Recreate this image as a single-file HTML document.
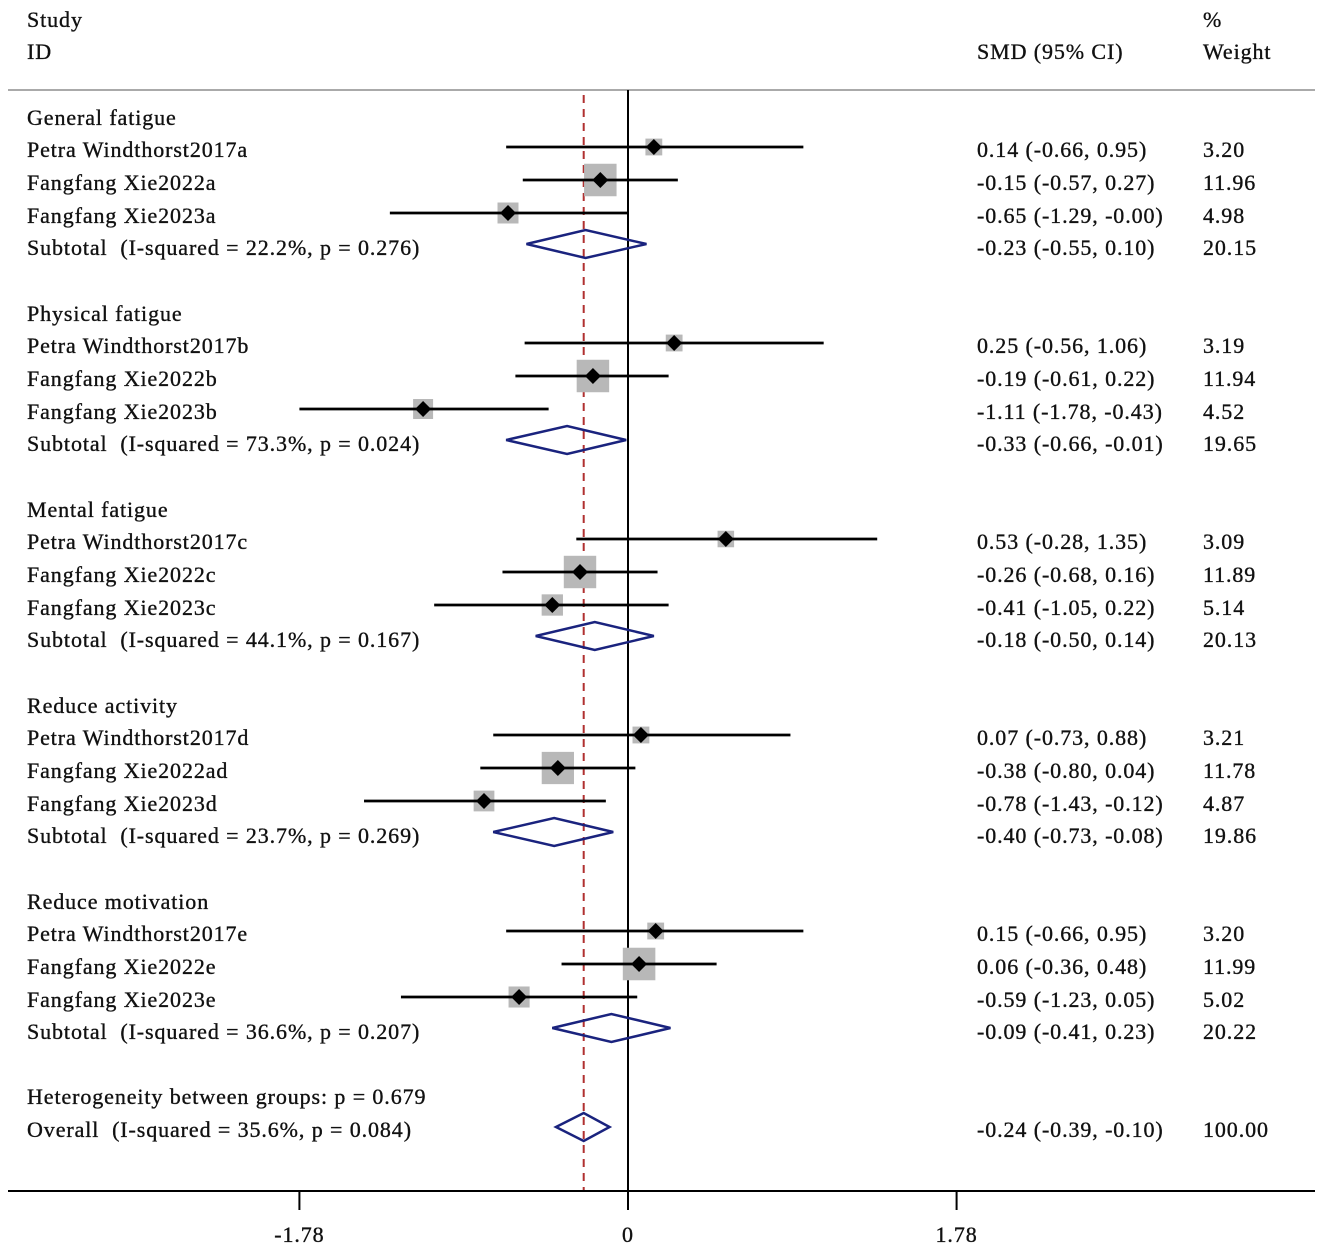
<!DOCTYPE html>
<html><head><meta charset="utf-8">
<style>
html,body{margin:0;padding:0;background:#fff;}
svg text{font-family:"Liberation Serif",serif;font-size:22px;letter-spacing:0.9px;fill:#111;stroke:#111;stroke-width:0.35px;white-space:pre;}
</style></head>
<body>
<svg id="chart" width="1325" height="1251" viewBox="0 0 1325 1251" xmlns="http://www.w3.org/2000/svg" xml:space="preserve">
<text x="27" y="27">Study</text>
<text x="27" y="59">ID</text>
<text x="977" y="59">SMD (95% CI)</text>
<text x="1203" y="27">%</text>
<text x="1203" y="59">Weight</text>
<line x1="8" y1="90" x2="1315" y2="90" stroke="#aaa" stroke-width="2"/>
<g id="plot"></g>
</svg>
<script>
const groups = ["General fatigue","Physical fatigue","Mental fatigue","Reduce activity","Reduce motivation"];
const studyNames = [
 ["Petra Windthorst2017a","Fangfang Xie2022a","Fangfang Xie2023a"],
 ["Petra Windthorst2017b","Fangfang Xie2022b","Fangfang Xie2023b"],
 ["Petra Windthorst2017c","Fangfang Xie2022c","Fangfang Xie2023c"],
 ["Petra Windthorst2017d","Fangfang Xie2022ad","Fangfang Xie2023d"],
 ["Petra Windthorst2017e","Fangfang Xie2022e","Fangfang Xie2023e"]];
const est = [[0.14,-0.15,-0.65],[0.25,-0.19,-1.11],[0.53,-0.26,-0.41],[0.07,-0.38,-0.78],[0.15,0.06,-0.59]];
const lo = [[-0.66,-0.57,-1.29],[-0.56,-0.61,-1.78],[-0.28,-0.68,-1.05],[-0.73,-0.80,-1.43],[-0.66,-0.36,-1.23]];
const hi = [[0.95,0.27,-0.00],[1.06,0.22,-0.43],[1.35,0.16,0.22],[0.88,0.04,-0.12],[0.95,0.48,0.05]];
const weights = [[3.20,11.96,4.98],[3.19,11.94,4.52],[3.09,11.89,5.14],[3.21,11.78,4.87],[3.20,11.99,5.02]];
const subEst = [-0.23,-0.33,-0.18,-0.40,-0.09];
const subLo = [-0.55,-0.66,-0.50,-0.73,-0.41];
const subHi = [0.10,-0.01,0.14,-0.08,0.23];
const subW = [20.15,19.65,20.13,19.86,20.22];
const subI2 = ["22.2%","73.3%","44.1%","23.7%","36.6%"];
const subP = ["0.276","0.024","0.167","0.269","0.207"];
const overall = [-0.24,-0.39,-0.10];
const overallText = "Overall  (I-squared = 35.6%, p = 0.084)";
const hetText = "Heterogeneity between groups: p = 0.679";
const ticks = [-1.78,0,1.78];
const tickLabels = ["-1.78","0","1.78"];

const NS="http://www.w3.org/2000/svg";
const g=document.getElementById('plot');
const X=v=>628+v*184.6;
const f=v=>(v<0||Object.is(v,-0)?"-":"")+Math.abs(v).toFixed(2);
function el(t,a,txt){const e=document.createElementNS(NS,t);for(const k in a)e.setAttribute(k,a[k]);if(txt!==undefined)e.textContent=txt;g.appendChild(e);return e;}
function txt(x,y,s){return el('text',{x:x,y:y},s);}
let e=el('line',{x1:X(0),y1:90,x2:X(0),y2:1191,stroke:'#000','stroke-width':2});

e=el('line',{x1:X(overall[0]),y1:95,x2:X(overall[0]),y2:1191,stroke:'#b03030','stroke-width':2,'stroke-dasharray':'8,6'});

function diamond(c,l,h,y,name){
 const p=`${X(l)},${y} ${X(c)},${y-14} ${X(h)},${y} ${X(c)},${y+14}`;
 const d=el('polygon',{points:p,fill:'none',stroke:'#1a237e','stroke-width':2.5});
 
}
groups.forEach((gn,i)=>{
 const y0=118+i*196;
 let t=txt(27,y0+7,gn);
 for(let j=0;j<3;j++){
  const y=y0+32+j*33;const cy=y-3;
  t=txt(27,y+7,studyNames[i][j]);
  t=txt(977,y+7,`${f(est[i][j])} (${f(lo[i][j])}, ${f(hi[i][j])})`);
  t=txt(1203,y+7,weights[i][j].toFixed(2));
  const s=9.4*Math.sqrt(weights[i][j]);
  let r=el('rect',{x:X(est[i][j])-s/2,y:cy-s/2,width:s,height:s,fill:'#b8b8b8'});
  
  let l=el('line',{x1:X(lo[i][j]),y1:cy,x2:X(hi[i][j]),y2:cy,stroke:'#000','stroke-width':2.8});
  
  const cx=X(est[i][j]);
  let m=el('polygon',{points:`${cx-8},${cy} ${cx},${cy-8} ${cx+8},${cy} ${cx},${cy+8}`,fill:'#000'});
  
 }
 const ys=y0+130;
 t=txt(27,ys+7,`Subtotal  (I-squared = ${subI2[i]}, p = ${subP[i]})`);
 t=txt(977,ys+7,`${f(subEst[i])} (${f(subLo[i])}, ${f(subHi[i])})`);
 t=txt(1203,ys+7,subW[i].toFixed(2));
 diamond(subEst[i],subLo[i],subHi[i],ys-4,'subtotal-diamond');
});
let t=txt(27,1104,hetText);
t=txt(27,1137,overallText);
t=txt(977,1137,`${f(overall[0])} (${f(overall[1])}, ${f(overall[2])})`);
t=txt(1203,1137,"100.00");
diamond(overall[0],overall[1],overall[2],1127,'overall-diamond');
e=el('line',{x1:8,y1:1191,x2:1315,y2:1191,stroke:'#000','stroke-width':2});

ticks.forEach((v,k)=>{
 let l=el('line',{x1:X(v),y1:1191,x2:X(v),y2:1210,stroke:'#000','stroke-width':2});
 
 let tt=el('text',{x:X(v),y:1242,'text-anchor':'middle'},tickLabels[k]);
 
});
</script>
</body></html>
